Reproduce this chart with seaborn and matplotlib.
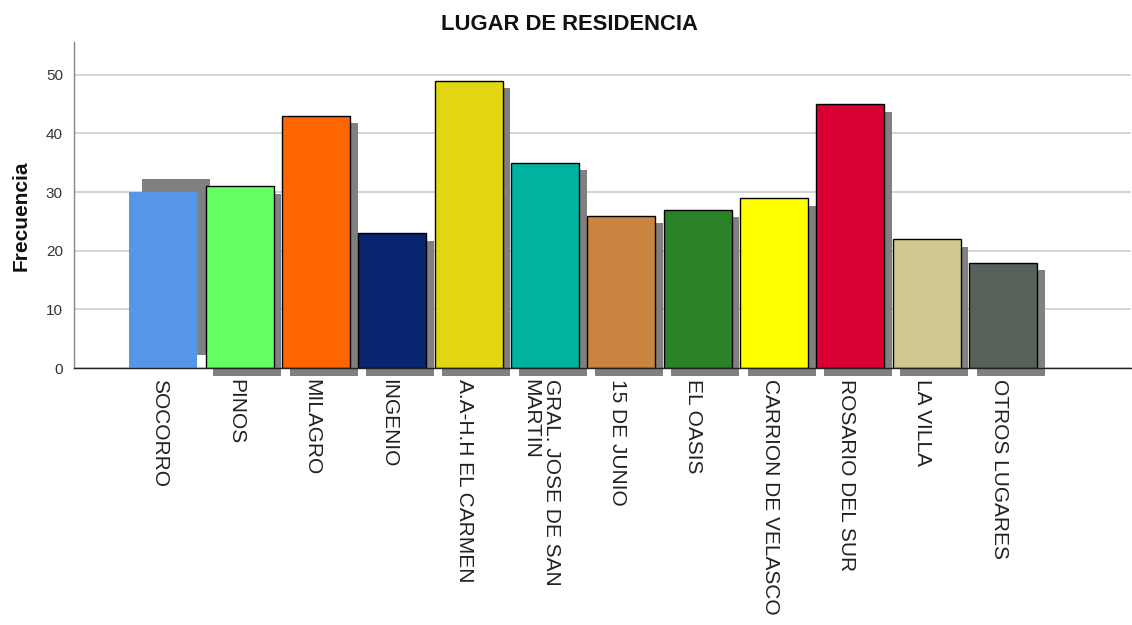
import numpy as np
import pandas as pd
import matplotlib
matplotlib.use('Agg')
import matplotlib.pyplot as plt
import seaborn as sns

# Data
categories = ['SOCORRO', 'PINOS', 'MILAGRO', 'INGENIO', 'A.A-H.H EL CARMEN',
              'GRAL. JOSE DE SAN\nMARTIN', '15 DE JUNIO', 'EL OASIS',
              'CARRION DE VELASCO', 'ROSARIO DEL SUR', 'LA VILLA', 'OTROS LUGARES']
frecuencia = [30, 31, 43, 23, 49, 35, 26, 27, 29, 45, 22, 18]
bar_colors = ['#5596E6', '#66FF66', '#FF6600', '#0A2570', '#E2D511', '#00B3A0',
              '#C98540', '#2A8227', '#FFFF00', '#D80032', '#CFC88F', '#58605A']
y_ticks = [0, 10, 20, 30, 40, 50]

sns.set_theme(style='white')
plt.rcParams['font.family'] = ['Liberation Sans', 'DejaVu Sans']

df = pd.DataFrame({'lugar': categories, 'frecuencia': frecuencia})

fig = plt.figure(figsize=(11.32, 6.25), dpi=100)
ax = fig.add_axes([0.0654, 0.411, 0.934, 0.522])

width = 0.89
pos = np.arange(len(categories))

# drop shadows (gray, offset right and down)
dx, dy = 0.10, 1.3
for i, v in enumerate(frecuencia):
    if i == 0:
        # the first bar's shadow sits raised in the original rendering
        ax.bar(pos[i] + 0.17, v, bottom=2.3, width=width, color='#808080',
               linewidth=0, zorder=1, clip_on=False)
    else:
        ax.bar(pos[i] + dx, v, bottom=-dy, width=width, color='#808080',
               linewidth=0, zorder=1, clip_on=False)

sns.barplot(data=df, x='lugar', y='frecuencia', hue='lugar', palette=bar_colors,
            width=width, edgecolor='black', linewidth=1.0, legend=False,
            saturation=1, ax=ax, zorder=2)
# first bar has no outline in the reference
ax.patches[len(categories)].set_linewidth(0)

ax.set_xlim(-1.17, len(categories) - 1 + 1.68)
ax.set_ylim(0, 55.6)
ax.set_yticks(y_ticks)
ax.yaxis.grid(True, color='#CCCCCC', linewidth=1.2, zorder=0)
ax.set_axisbelow(True)

ax.set_xticks(pos - 0.05)
ax.set_xticklabels(categories, rotation=-90, ha='center', va='top',
                   fontsize=15, color='#222222', linespacing=1.1,
                   multialignment='left')
ax.tick_params(axis='x', length=0, pad=8)
ax.tick_params(axis='y', length=0, pad=8, labelsize=11, colors='#333333')

for s in ['top', 'right']:
    ax.spines[s].set_visible(False)
ax.spines['left'].set_color('#888888')
ax.spines['left'].set_linewidth(1.0)
ax.spines['bottom'].set_color('#222222')
ax.spines['bottom'].set_linewidth(1.0)
ax.spines['bottom'].set_zorder(3)

ax.set_xlabel('')
ax.set_ylabel('Frecuencia', fontsize=15, fontweight='bold', color='#111111')
ax.yaxis.set_label_coords(-0.0415, 0.466)
fig.suptitle('LUGAR DE RESIDENCIA', x=0.503, y=0.978, fontsize=15.8,
             fontweight='bold', color='#111111')

fig.savefig('out.png', dpi=100, facecolor='white')
